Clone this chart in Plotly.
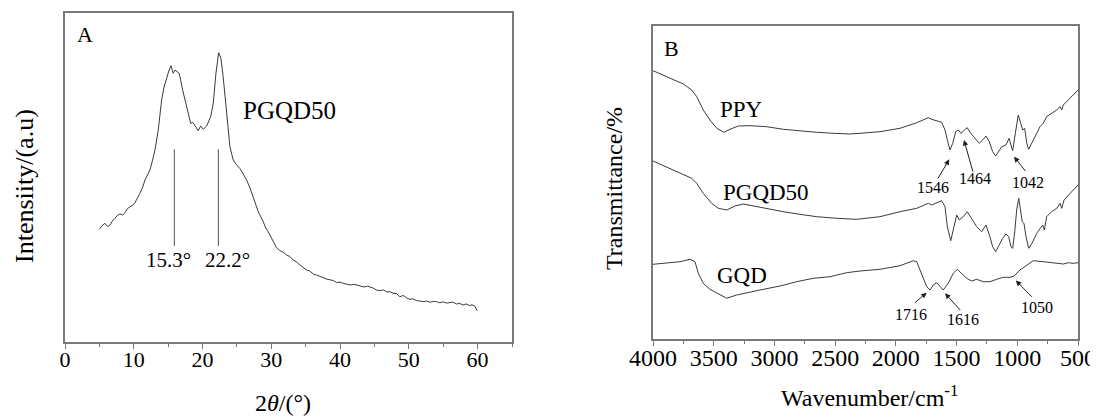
import plotly.graph_objects as go

# ---------------- Panel A: XRD of PGQD50 ----------------
xrd_2theta = [5.0, 5.4, 5.81, 6.2, 6.54, 6.9, 7.27, 7.6, 7.99, 8.4, 8.72, 9.1, 9.45, 9.8, 10.17, 10.5,
              10.9, 11.3, 11.63, 12.0, 12.35, 12.7, 13.08, 13.56, 14.05, 14.4, 14.78, 15.1, 15.41,
              15.74, 16.0, 16.24, 16.61, 17.11, 17.4, 17.69, 18.27, 18.6, 18.9, 19.38, 19.72, 20.1,
              20.6, 21.18, 21.56, 21.95, 22.34, 22.67, 23.0, 23.5, 23.98, 24.46, 25.0, 25.44, 25.9,
              26.41, 26.9, 27.37, 28.1, 28.82, 29.2, 29.55, 30.28, 30.7, 31.25, 31.7, 32.22, 32.7,
              33.18, 33.6, 34.16, 34.6, 35.13, 35.6, 36.1, 36.58, 37.0, 37.5, 38.0, 38.52, 39.0,
              39.5, 40.0, 40.45, 41.0, 41.5, 42.0, 42.4, 43.0, 43.5, 44.0, 44.33, 44.8, 45.3, 45.78,
              46.3, 46.8, 47.24, 47.7, 48.2, 48.69, 49.2, 49.7, 50.15, 50.6, 51.1, 51.6, 52.08,
              52.6, 53.1, 53.6, 54.03, 54.5, 55.0, 55.5, 55.96, 56.4, 56.9, 57.4, 57.89, 58.3,
              58.8, 59.2, 59.59, 59.93]
xrd_intensity = [112.7, 116.5, 118.7, 115.5, 117.0, 121.0, 123.7, 126.5, 128.0, 127.0, 129.3, 133.5,
                 135.3, 136.5, 139.3, 143.0, 148.7, 155.0, 162.0, 167.0, 172.0, 181.0, 192.0, 212.0,
                 242.0, 255.0, 265.3, 271.0, 276.3, 268.7, 272.0, 270.3, 268.7, 252.0, 243.0, 233.7,
                 218.7, 219.5, 216.0, 211.3, 216.0, 212.7, 216.0, 225.3, 238.7, 268.7, 289.3, 283.7,
                 265.3, 228.7, 195.3, 182.0, 176.5, 173.7, 168.5, 162.0, 154.0, 145.3, 130.3, 120.3,
                 114.0, 110.3, 100.3, 95.0, 91.3, 90.0, 87.0, 85.5, 82.0, 80.5, 77.0, 75.0, 72.0,
                 71.0, 68.0, 67.0, 65.5, 64.5, 63.0, 62.0, 61.5, 59.5, 59.8, 58.7, 58.2, 57.0, 57.8,
                 57.0, 56.5, 55.0, 55.8, 55.3, 54.0, 52.0, 51.3, 52.2, 50.0, 50.3, 48.8, 48.5, 45.3,
                 46.5, 44.0, 42.7, 43.2, 41.5, 41.0, 40.3, 40.9, 39.8, 40.6, 40.3, 39.2, 40.1, 38.9,
                 39.3, 39.9, 38.0, 38.6, 37.0, 38.1, 36.5, 37.2, 36.0, 31.3]

peak_positions = [15.9, 22.3]
peak_labels = ["15.3°", "22.2°"]

# ---------------- Panel B: FTIR spectra ----------------
ppy_wn = [4000, 3860, 3750, 3681, 3640, 3586, 3531, 3475, 3415, 3366, 3298, 3201, 3064, 2927, 2790,
          2652, 2515, 2378, 2295, 2131, 1966, 1828, 1733, 1705, 1623, 1595, 1573, 1554, 1532, 1507,
          1486, 1464, 1436, 1412, 1384, 1348, 1313, 1285, 1258, 1230, 1203, 1178, 1156, 1128, 1093,
          1068, 1052, 1038, 1016, 992, 972, 955, 939, 922, 906, 879, 840, 813, 786, 758, 717, 675,
          648, 634, 621, 580, 539, 500]
ppy_t = [268.3, 260.7, 255.0, 249.0, 242.3, 229.0, 219.0, 210.7, 206.7, 209.7, 213.0, 213.3, 212.3,
         209.7, 208.0, 206.7, 205.7, 205.0, 205.7, 207.3, 210.7, 216.3, 221.3, 219.7, 216.7, 209.0,
         197.3, 189.0, 195.7, 207.3, 209.0, 205.7, 209.0, 211.3, 205.7, 200.7, 195.7, 199.0, 203.0,
         197.3, 187.3, 183.0, 187.3, 192.3, 194.0, 200.7, 194.0, 188.3, 205.7, 224.0, 215.7, 209.0,
         210.7, 195.7, 189.7, 195.7, 205.7, 212.3, 215.7, 222.3, 225.7, 229.0, 232.3, 229.0, 234.0,
         239.0, 244.0, 249.0]

pgqd_wn = [4000, 3860, 3750, 3681, 3640, 3586, 3517, 3462, 3393, 3325, 3256, 3174, 3064, 2927, 2790,
           2652, 2487, 2323, 2131, 1966, 1828, 1733, 1705, 1623, 1595, 1576, 1548, 1521, 1499, 1478,
           1445, 1412, 1376, 1334, 1293, 1258, 1225, 1203, 1178, 1148, 1120, 1093, 1071, 1052, 1038,
           1021, 1005, 988, 972, 959, 945, 928, 906, 879, 840, 813, 791, 777, 758, 717, 675, 648,
           634, 615, 580, 539, 500]
pgqd_t = [178.0, 170.7, 164.7, 160.7, 155.7, 145.7, 135.7, 130.7, 129.0, 133.0, 135.0, 133.0, 130.7,
          127.3, 124.7, 122.3, 120.7, 119.7, 122.3, 127.3, 130.7, 135.7, 134.0, 138.3, 132.3, 112.3,
          98.3, 112.3, 124.0, 119.0, 122.3, 127.3, 120.7, 112.3, 107.3, 114.0, 102.3, 92.3, 87.3,
          94.0, 100.7, 105.0, 102.3, 92.3, 90.7, 107.3, 129.0, 140.7, 129.0, 117.3, 115.7, 102.3,
          90.7, 95.7, 105.7, 110.7, 114.0, 109.0, 122.3, 127.3, 130.7, 135.7, 130.7, 139.0, 144.0,
          149.0, 154.0]

gqd_wn = [4000, 3778, 3695, 3654, 3627, 3586, 3531, 3475, 3393, 3311, 3228, 3119, 2954, 2817, 2680,
          2542, 2405, 2295, 2131, 1966, 1856, 1828, 1801, 1774, 1746, 1719, 1692, 1664, 1637, 1610,
          1568, 1527, 1494, 1458, 1417, 1376, 1334, 1280, 1225, 1170, 1115, 1060, 1027, 978, 923,
          868, 786, 703, 621, 580, 539, 500]
gqd_t = [74.7, 77.3, 79.7, 77.3, 65.7, 55.7, 49.7, 45.7, 40.7, 44.0, 46.3, 49.0, 53.0, 57.3, 60.7,
         62.3, 66.3, 68.0, 69.7, 73.3, 78.3, 77.3, 69.0, 60.7, 52.3, 49.0, 54.0, 56.3, 53.0, 49.0,
         55.7, 65.7, 69.7, 65.7, 60.7, 58.0, 59.7, 57.3, 57.3, 59.7, 61.7, 61.7, 63.0, 69.0, 74.0,
         78.3, 77.3, 76.3, 75.0, 76.3, 75.7, 76.3]

# arrow annotations: label, text position, arrow tail, arrow head (wavenumber, transmittance)
ir_labels = ["1546", "1464", "1042", "1716", "1616", "1050"]
ir_label_pos = [(1695, 151.5), (1348, 160.0), (912, 156.5), (1875, 25.0), (1443, 20.0), (834, 31.5)]
ir_arrow_tail = [(1661, 159.0), (1362, 165.7), (922, 166.3), (1856, 35.0), (1458, 27.3), (868, 40.7)]
ir_arrow_head = [(1560, 179.7), (1439, 199.0), (1027, 182.3), (1746, 46.3), (1595, 45.7), (1012, 58.5)]

sample_names = ["PPY", "PGQD50", "GQD"]
sample_label_pos = [(3275, 229.0), (3069, 146.5), (3263, 63.5)]

FONT = "Liberation Serif, Times New Roman, serif"
LINE_COLOR = "#3a3a3a"
FRAME_COLOR = "#7a7a7a"

# page body adds an 8px margin: figure is drawn 8px right/down from the window corner
OFF = 8
W, H = 1098 - OFF, 416 - OFF


def px(x):
    return (x - OFF) / W


def py(y):
    return 1 - (y - OFF) / H


fig = go.Figure()

fig.add_trace(go.Scatter(x=xrd_2theta, y=xrd_intensity, mode="lines",
                         line=dict(color=LINE_COLOR, width=1), xaxis="x", yaxis="y",
                         showlegend=False, hoverinfo="skip"))
for wn, tt in [(ppy_wn, ppy_t), (pgqd_wn, pgqd_t), (gqd_wn, gqd_t)]:
    fig.add_trace(go.Scatter(x=wn, y=tt, mode="lines",
                             line=dict(color=LINE_COLOR, width=1), xaxis="x2", yaxis="y2",
                             showlegend=False, hoverinfo="skip"))

shapes = []
for p in peak_positions:
    shapes.append(dict(type="line", xref="x", yref="y", x0=p, x1=p, y0=96, y1=192.7,
                       line=dict(color="#555555", width=1)))

annotations = []
C = dict(xanchor="center", yanchor="middle", showarrow=False)
# Panel A texts
annotations.append(dict(x=2.98, y=307.5, xref="x", yref="y", text="A",
                        font=dict(family=FONT, size=22, color="black"), **C))
annotations.append(dict(x=32.6, y=231, xref="x", yref="y", text="PGQD50",
                        font=dict(family=FONT, size=25, color="black"), **C))
for lab, xp in zip(peak_labels, [15.0, 23.7]):
    annotations.append(dict(x=xp, y=82, xref="x", yref="y", text=lab,
                            font=dict(family=FONT, size=21, color="black"), **C))
# Panel B texts
annotations.append(dict(x=3848, y=290.5, xref="x2", yref="y2", text="B",
                        font=dict(family=FONT, size=22, color="black"), **C))
for name, (xp, yp) in zip(sample_names, sample_label_pos):
    annotations.append(dict(x=xp, y=yp, xref="x2", yref="y2", text=name,
                            font=dict(family=FONT, size=23, color="black"), **C))
for lab, (lx, ly), (tx, ty), (hx, hy) in zip(ir_labels, ir_label_pos, ir_arrow_tail, ir_arrow_head):
    annotations.append(dict(x=lx, y=ly, xref="x2", yref="y2", text=lab,
                            font=dict(family=FONT, size=16, color="black"), **C))
    annotations.append(dict(x=hx, y=hy, ax=tx, ay=ty, xref="x2", yref="y2", axref="x2", ayref="y2",
                            text="", showarrow=True, arrowhead=2, arrowsize=1.1, arrowwidth=1,
                            arrowcolor="#222222"))
# Axis titles
annotations.append(dict(x=px(283), y=py(403), xref="paper", yref="paper",
                        text="2<i>θ</i>/(°)", font=dict(family=FONT, size=24, color="black"), **C))
annotations.append(dict(x=px(24), y=py(186), xref="paper", yref="paper",
                        text="Intensiity/(a.u)", textangle=-90,
                        font=dict(family=FONT, size=26, color="black"), **C))
annotations.append(dict(x=px(869), y=py(396), xref="paper", yref="paper",
                        text="Wavenumber/cm<sup>-1</sup>",
                        font=dict(family=FONT, size=24, color="black"), **C))
annotations.append(dict(x=px(613.5), y=py(188.5), xref="paper", yref="paper",
                        text="Transmittance/%", textangle=-90,
                        font=dict(family=FONT, size=24, color="black"), **C))

axis_common = dict(showline=True, linecolor=FRAME_COLOR, linewidth=1.5, mirror=True,
                   showgrid=False, zeroline=False, automargin=False)

fig.update_layout(
    width=W, height=H,
    margin=dict(l=0, r=0, t=0, b=0, pad=0, autoexpand=False),
    paper_bgcolor="white", plot_bgcolor="white",
    font=dict(family=FONT, color="black"),
    xaxis=dict(domain=[px(65), px(512)], range=[0, 65], tickmode="linear", tick0=0, dtick=10,
               ticks="outside", ticklen=5, tickcolor=FRAME_COLOR, ticklabelstandoff=-8,
               minor=dict(ticks="outside", ticklen=3, dtick=5, tickcolor=FRAME_COLOR),
               tickfont=dict(family=FONT, size=22, color="black"), anchor="y", **axis_common),
    yaxis=dict(domain=[py(342), py(13)], range=[0, 329], showticklabels=False,
               ticks="", anchor="x", **axis_common),
    xaxis2=dict(domain=[px(653), px(1078)], range=[4000, 500], tickmode="linear", tick0=500,
                dtick=500, ticks="outside", ticklen=5, tickcolor=FRAME_COLOR, ticklabelstandoff=-9,
                minor=dict(ticks="outside", ticklen=3, dtick=250, tickcolor=FRAME_COLOR),
                tickfont=dict(family=FONT, size=24, color="black"), anchor="y2", **axis_common),
    yaxis2=dict(domain=[py(339), py(26)], range=[0, 313], showticklabels=False,
                ticks="", anchor="x2", **axis_common),
    shapes=shapes,
    annotations=annotations,
)

fig.write_html("out.html")
